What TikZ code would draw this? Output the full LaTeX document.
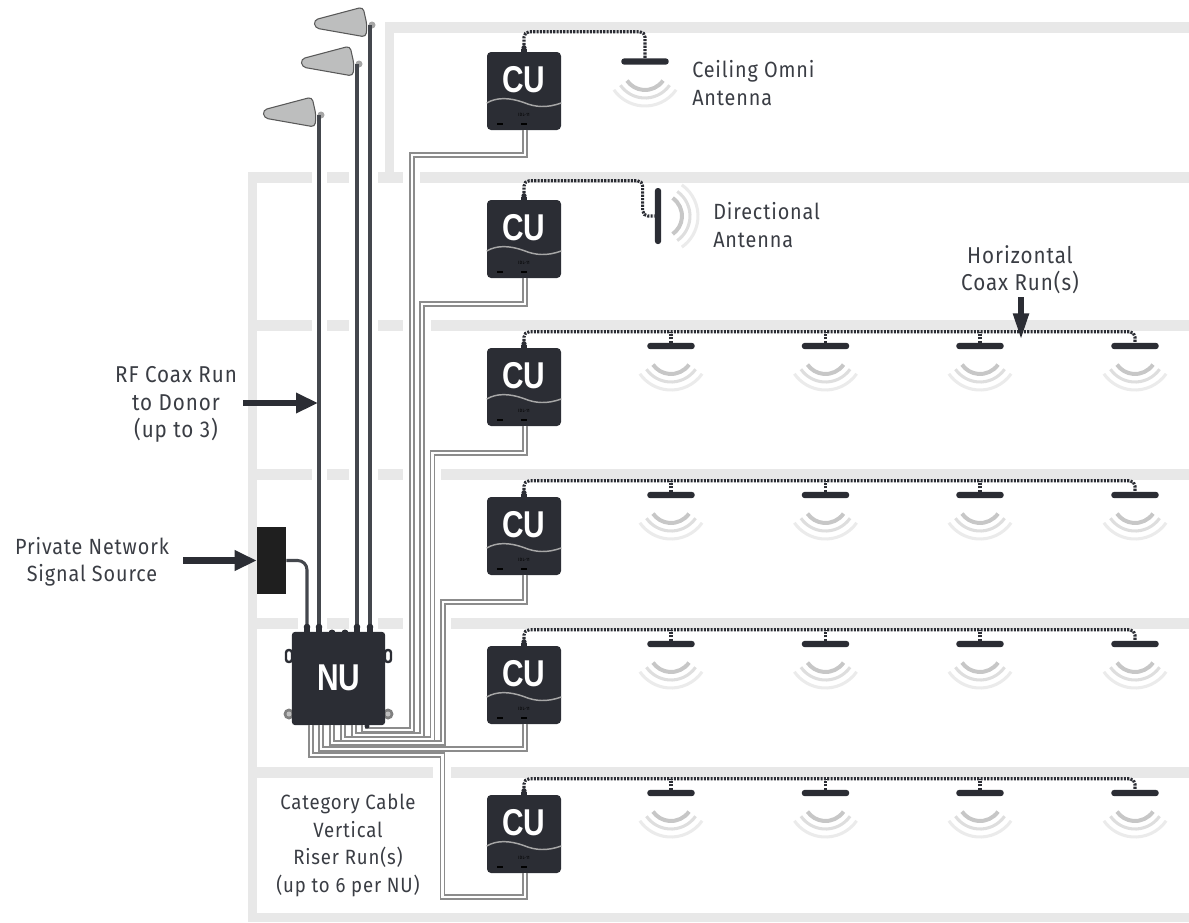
\documentclass[tikz,border=0pt]{standalone}
\usepackage{fontspec}
\setmainfont{Fira Sans}[FakeStretch=0.9,LetterSpace=4]
\newfontfamily\boxfont{Liberation Sans}[FakeStretch=0.8]
\usetikzlibrary{calc,arrows.meta}
\definecolor{wallgrey}{HTML}{E8E8E8}
\definecolor{boxdark}{HTML}{2B2D34}
\definecolor{labeltext}{HTML}{3A3D44}
\definecolor{rfcable}{HTML}{44474D}
\definecolor{catgrey}{HTML}{8C8C8C}
\definecolor{donorgrey}{HTML}{BDBEBE}
\tikzset{
  wall/.style={fill=wallgrey},
  cubox/.style={fill=boxdark,rounded corners=3pt,minimum width=55.5pt,minimum height=58.5pt,inner sep=0pt},
  nubox/.style={fill=boxdark,rounded corners=2.5pt,minimum width=70pt,minimum height=70pt,inner sep=0pt},
  boxtext/.style={text=white,inner sep=0pt,font=\boxfont\bfseries\fontsize{28}{28}\selectfont},
  barant/.style={fill=boxdark,rounded corners=2pt,minimum width=35.5pt,minimum height=4.6pt,inner sep=0pt},
  vbarant/.style={fill=boxdark,rounded corners=2pt,minimum width=4.6pt,minimum height=42pt,inner sep=0pt},
  coax/.style={boxdark,line width=2.3pt,dash pattern=on 1.6pt off 0.9pt},
  riser/.style={catgrey,line width=0.95pt,double=white,double distance=2.1pt},
  rfrun/.style={rfcable,line width=2.3pt},
  callout/.style={boxdark,line width=5pt,-{Triangle[length=16.5pt,width=14.5pt]}},
  caption/.style={text=labeltext,inner sep=0pt,font=\fontsize{16.5}{20.6}\selectfont},
  wave1/.style={line width=3pt,draw=black!22},
  wave2/.style={line width=2.3pt,draw=black!13},
  wave3/.style={line width=2.3pt,draw=black!8},
}
\begin{document}
\begin{tikzpicture}[x=0.75pt,y=-0.75pt]
  \useasboundingbox (0,0) rectangle (1189,922);
  % building walls
  \fill[wall] (385,22) rectangle (1189,33);
  \fill[wall] (385,22) rectangle (394,172);
  \fill[wall] (248,172) rectangle (257,922);
  \fill[wall] (248,913) rectangle (1189,922);
  \foreach \y/\xa/\xb in {172/312/420,320/312/431,469/312/441,618/298/451}{
    \fill[wall] (248,\y) rectangle (\xa,\y+11);
    \fill[wall] (327,\y) rectangle (349,\y+11);
    \fill[wall] (378,\y) rectangle (403,\y+11);
    \fill[wall] (\xb,\y) rectangle (1189,\y+11);
  }
  \fill[wall] (248,767) rectangle (433,778);
  \fill[wall] (451,767) rectangle (1189,778);

  % NU mounting ears, then units
  \foreach \x in {289,388}{
    \fill[black!50] (\x,714) circle (5.5);
    \fill[black!25] (\x,714) circle (2.5);
    \filldraw[fill=white,draw=boxdark,line width=1.8pt,rounded corners=2pt] (\x-3,650) rectangle (\x+3,662);
  }
  \node[nubox] (nu) at (338.5,678.5) {};
  \node[boxtext] (nutext) at (339,678) {NU};
  \foreach \i/\y in {1/91,2/239,3/387,4/536,5/685,6/834}{
    \node[cubox] (cu\i) at (524,\y) {};
    \coordinate (cuport\i) at (525,\y+39);
  }

  % riser cables, NU to each CU
  \foreach \i/\x in {1/364,2/354,3/343,4/332,5/321,6/311}
    \coordinate (nuport\i) at (\x,725);
  \draw[riser] (nuport6) |- (442.5,755) |- (525,897) -- (cuport6);
  \draw[riser] (nuport5) |- (525,749) -- (cuport5);
  \draw[riser] (nuport4) |- (443,743) |- (525,602) -- (cuport4);
  \draw[riser] (nuport3) |- (432.5,739) |- (525,453) -- (cuport3);
  \draw[riser] (nuport2) |- (422,735) |- (525,304) -- (cuport2);
  \draw[riser] (nuport1) |- (412,730) |- (525,155) -- (cuport1);
  \fill[boxdark] (367,726) circle (2.5);

  % CU faces
  \foreach \i in {1,...,6}{
    \node[boxtext] (cutext\i) at ($(cu\i)+(0,-11)$) {CU};
    \draw[black!35,line width=1.1pt] ($(cu\i.west)+(0,12)$) .. controls +(10,-6) and +(-14,-5) .. ($(cu\i.west)+(37,11.5)$)
      .. controls +(12,5) and +(-14,5) .. ($(cu\i.east)+(0,12)$);
    \node[text=black,inner sep=0pt,font=\fontsize{3.5}{4}\selectfont] (cutag\i) at ($(cu\i)+(0,24)$) {IDL-11};
    \fill[black] ($(cu\i)+(-27,32)$) rectangle +(6,1.5);
    \fill[black] ($(cu\i)+(-3,32)$) rectangle +(6,1.5);
    \fill[boxdark] ($(cu\i.north)+(0,-4)$) circle (2.6);
    \fill[boxdark] ($(cu\i.north)+(-3,1)$) rectangle +(6,-4);
  }

  % ceiling omni
  \node[barant] (omni) at (645,61.5) {};
  \draw[coax,rounded corners=4pt] (cu1.north) -- ++(0,-20) -| (omni.north);
  \foreach \r/\w in {22/wave1,30/wave2,38/wave3}
    \draw[\w] ($(645,68)+(35:\r)$) arc[start angle=35,end angle=145,radius=\r];

  % directional antenna
  \node[vbarant] (dirant) at (658,216) {};
  \draw[coax,rounded corners=4pt] (cu2.north) -- ++(0,-19) -| ($(dirant.west)+(-12,0)$) -- (dirant.west);
  \foreach \r/\w in {22/wave1,30/wave2,38/wave3}
    \draw[\w] ($(660,216)+(-55:\r)$) arc[start angle=-55,end angle=55,radius=\r];

  % row antennas
  \foreach \i/\y in {3/346,4/495,5/644,6/793}{
    \foreach \j/\x in {1/671,2/825.5,3/980,4/1135}{
      \node[barant] (om\i\j) at (\x,\y) {};
      \foreach \r/\w in {22/wave1,30/wave2,38/wave3}
        \draw[\w] ($(\x,\y+6)+(35:\r)$) arc[start angle=35,end angle=145,radius=\r];
    }
    \draw[coax,rounded corners=4pt] (cu\i.north) -- ++(0,-16) -| (om\i4.north);
    \foreach \j in {1,2,3}
      \draw[coax] (om\i\j.north) -- ++(0,-11);
  }

  % donor antennas and RF runs
  \foreach \i/\x in {1/307,2/319,3/332,4/345,5/357,6/370}
    \coordinate (nutop\i) at (\x,632);
  \foreach \i/\x/\y/\p in {1/319/115/2,2/357/64/5,3/370/25/6}{
    \coordinate (donor\i) at (\x,\y);
    \fill[black!35] ($(donor\i)+(2,0)$) circle (3.5);
    \draw[rfrun] (donor\i) -- (nutop\p);
    \filldraw[fill=donorgrey,draw=black!65,line width=0.8pt,rounded corners=3pt]
      ($(donor\i)+(-7,-18)$) -- ($(donor\i)+(-56,-5)$) -- ($(donor\i)+(-55,3)$)
      -- ($(donor\i)+(-4,12)$) -- ($(donor\i)+(-3,0)$) -- cycle;
  }

  % signal source
  \node[fill=black!88,minimum width=21.75pt,minimum height=50.25pt,inner sep=0pt] (source) at (271.5,560.5) {};
  \draw[rfrun,rounded corners=7pt] (source.east) -| (nutop1);

  % NU top connectors
  \foreach \i in {1,2,5,6}{
    \fill[boxdark] ($(nutop\i)+(0,-5)$) circle (3.3);
    \fill[boxdark] ($(nutop\i)+(-3,1)$) rectangle +(6,-5);
  }
  \foreach \i in {3,4}
    \fill[boxdark] ($(nutop\i)+(0,1)$) circle (3.5);

  % callouts
  \coordinate (rfstart) at (243,403);
  \coordinate (rftip) at (318,403);
  \coordinate (srcstart) at (183,560.5);
  \coordinate (hzstart) at (1021,297);
  \coordinate (hztip) at (1021,340);
  \draw[callout] (rfstart) -- (rftip);
  \draw[callout] (srcstart) -- (source.west);
  \draw[boxdark,line width=4.5pt,-{Triangle[length=20pt,width=11pt]}] (hzstart) -- (hztip);

  % labels
  \node[caption,align=left,anchor=west] (omnilabel) at (692,83) {Ceiling Omni\\Antenna};
  \node[caption,align=left,anchor=west] (dirlabel) at (713,225) {Directional\\Antenna};
  \node[caption,align=center,font=\fontsize{17.2}{20.6}\selectfont] (hzlabel) at (1020,269.5) {Horizontal\\Coax Run(s)};
  \node[caption,align=center,font=\fontsize{17.2}{20.6}\selectfont] (rflabel) at (176,404.5) {RF Coax Run\\to Donor\\(up to 3)};
  \node[caption,align=center] (srclabel) at (92,562) {Private Network\\Signal Source};
  \node[caption,align=center,font=\fontsize{15.5}{20.6}\selectfont] (catlabel) at (348,845.5) {Category Cable\\Vertical\\Riser Run(s)\\(up to 6 per NU)};
\end{tikzpicture}
\end{document}
